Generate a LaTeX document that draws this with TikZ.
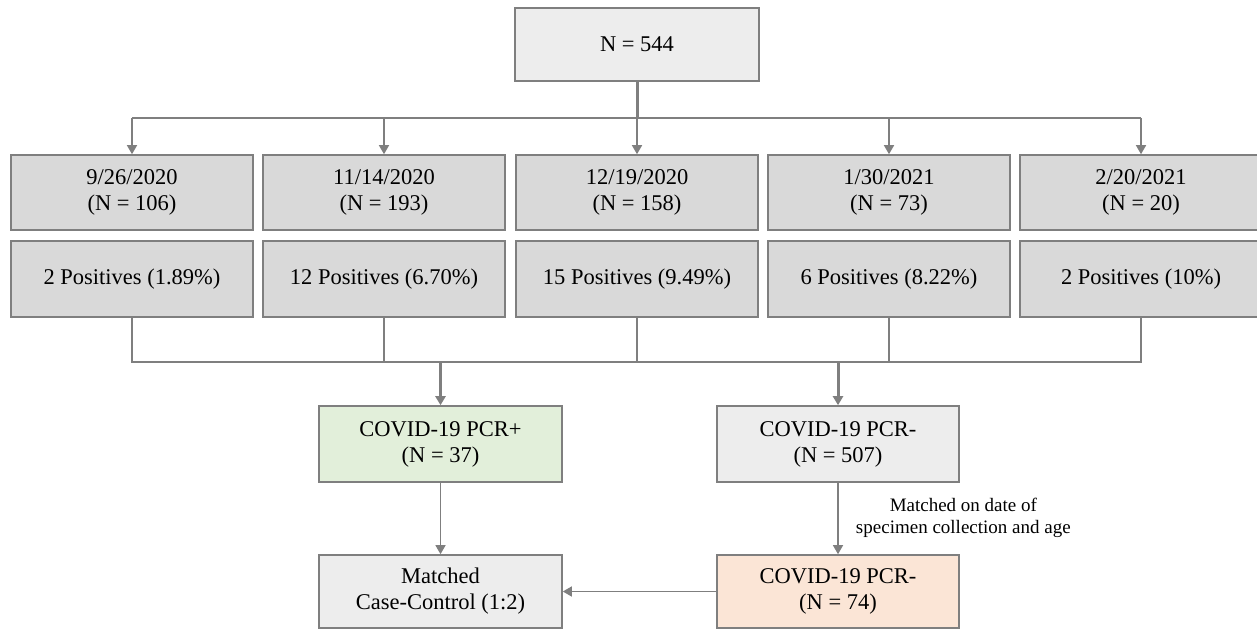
\documentclass[tikz,border=0pt]{standalone}
\usepackage{fontspec}
\setmainfont{Liberation Serif}
\usetikzlibrary{arrows.meta}

\definecolor{lineGray}{HTML}{7F7F7F}
\definecolor{boxGray}{HTML}{D9D9D9}
\definecolor{boxLight}{HTML}{EDEDED}
\definecolor{boxGreen}{HTML}{E2EFDA}
\definecolor{boxPeach}{HTML}{FBE5D6}

\def \boxW{242}
\def \boxH{75}
\def \rowAY{192.5}
\def \rowBY{279}
\def \colA{132}
\def \colB{384}
\def \colC{637}
\def \colD{889}
\def \colE{1141}
\def \splitTopY{118}
\def \joinBotY{362}

\tikzset{
  box/.style={draw=lineGray, line width=1.6pt, minimum width=\boxW pt, minimum height=\boxH pt,
    inner sep=0pt, align=center, font=\fontsize{22.5}{26}\selectfont},
  link/.style={draw=lineGray, line width=1.5pt},
  thicklink/.style={draw=lineGray, line width=3pt},
  tip/.style={-{Triangle[length=9pt,width=10pt]}}
}

\begin{document}
\begin{tikzpicture}[x=1pt, y=-1pt]
\useasboundingbox (0,0) rectangle (1257,629);

% ---- Total
\node [box, fill=boxLight, minimum width=244pt, minimum height=73pt] (total) at (637, 44.5) {N = 544};

% ---- Dates
\node [box, fill=boxGray] (dateA) at (\colA, \rowAY) {9/26/2020\\(N = 106)};
\node [box, fill=boxGray] (dateB) at (\colB, \rowAY) {11/14/2020\\(N = 193)};
\node [box, fill=boxGray] (dateC) at (\colC, \rowAY) {12/19/2020\\(N = 158)};
\node [box, fill=boxGray] (dateD) at (\colD, \rowAY) {1/30/2021\\(N = 73)};
\node [box, fill=boxGray] (dateE) at (\colE, \rowAY) {2/20/2021\\(N = 20)};

% ---- Positives
\node [box, fill=boxGray, minimum height=76pt] (posA) at (\colA, \rowBY) {2 Positives (1.89\%)};
\node [box, fill=boxGray, minimum height=76pt] (posB) at (\colB, \rowBY) {12 Positives (6.70\%)};
\node [box, fill=boxGray, minimum height=76pt] (posC) at (\colC, \rowBY) {15 Positives (9.49\%)};
\node [box, fill=boxGray, minimum height=76pt] (posD) at (\colD, \rowBY) {6 Positives (8.22\%)};
\node [box, fill=boxGray, minimum height=76pt] (posE) at (\colE, \rowBY) {2 Positives (10\%)};

% ---- PCR groups
\node [box, fill=boxGreen, minimum width=243pt, minimum height=76pt] (pcrPos) at (440.5, 444) {COVID-19 PCR+\\(N = 37)};
\node [box, fill=boxLight, minimum width=242pt, minimum height=76pt] (pcrNeg) at (838, 444) {COVID-19 PCR-\\(N = 507)};
\node [box, fill=boxPeach, minimum width=242pt, minimum height=73pt] (pcrMatch) at (838, 591.5) {COVID-19 PCR-\\(N = 74)};
\node [box, fill=boxLight, minimum width=243pt, minimum height=73pt] (caseCtrl) at (440.5, 591.5) {Matched\\Case-Control (1:2)};

% ---- Split to dates
\coordinate (splitTop) at (\colC, \splitTopY);
\draw [thicklink] (total.south) -- (splitTop);
\draw [link] (splitTop -| dateA) -- (splitTop -| dateE);
\draw [link, tip] (splitTop -| dateA) -- (dateA.north);
\draw [link, tip] (splitTop -| dateB) -- (dateB.north);
\draw [link, tip] (splitTop -| dateC) -- (dateC.north);
\draw [link, tip] (splitTop -| dateD) -- (dateD.north);
\draw [link, tip] (splitTop -| dateE) -- (dateE.north);

% ---- Join of positives
\coordinate (joinBot) at (\colC, \joinBotY);
\draw [link] (posA.south) |- (joinBot -| posE) -- (posE.south);
\draw [link] (posB.south) -- (joinBot -| posB);
\draw [link] (posC.south) -- (joinBot -| posC);
\draw [link] (posD.south) -- (joinBot -| posD);
\draw [thicklink, tip] (joinBot -| pcrPos) -- (pcrPos.north);
\draw [thicklink, tip] (joinBot -| pcrNeg) -- (pcrNeg.north);

% ---- Matching
\draw [link, line width=1.3pt, tip] (pcrPos.south) -- (caseCtrl.north);
\draw [link, line width=1.3pt, tip] (pcrNeg.south) -- node [right, xshift=14pt, yshift=1pt, align=center, font=\fontsize{19}{22}\selectfont] (matchNote) {Matched on date of\\specimen collection and age} (pcrMatch.north);
\draw [link, tip] (pcrMatch.west) -- (caseCtrl.east);
\end{tikzpicture}
\end{document}
